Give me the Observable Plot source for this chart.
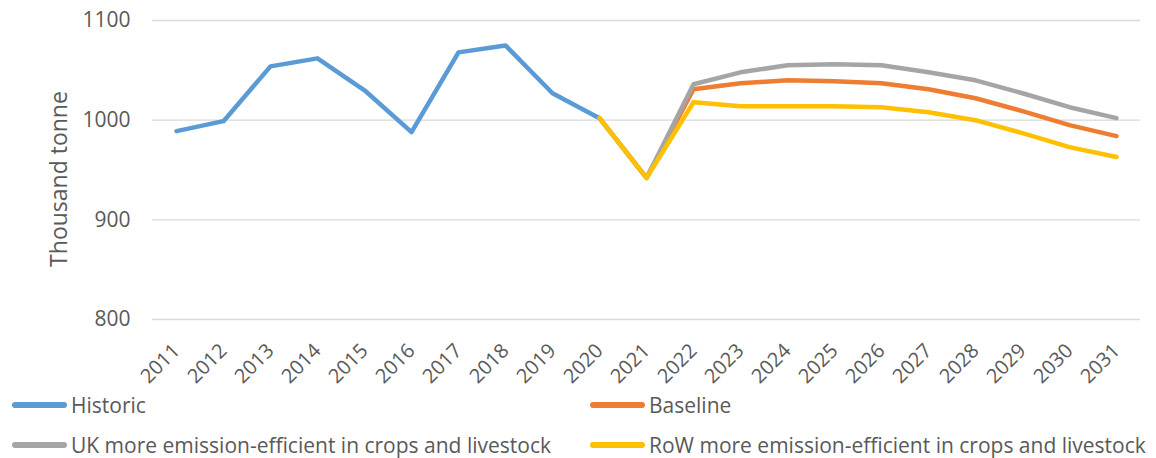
<!DOCTYPE html>
<html>
<head>
<meta charset="utf-8">
<script src="https://cdn.jsdelivr.net/npm/d3@7"></script>
<script src="https://cdn.jsdelivr.net/npm/@observablehq/plot@0.6"></script>
<style>
  html, body { margin: 0; padding: 0; background: #fff; }
  body { width: 1156px; height: 458px; overflow: hidden; font-family: "Open Sans", Lato, sans-serif; }
  #chart svg { display: block; }
  .legend { position: relative; height: 68px; color: #595959; font-size: 21px; }
  .item { position: absolute; display: flex; align-items: center; white-space: nowrap; height: 30px; }
  .swatch { width: 55px; height: 5.5px; border-radius: 3px; margin-right: 4px; }
</style>
</head>
<body>
<div id="chart"></div>
<div class="legend" id="legend"></div>
<script>
// Years on the category axis
const years = ["2011","2012","2013","2014","2015","2016","2017","2018","2019","2020","2021",
               "2022","2023","2024","2025","2026","2027","2028","2029","2030","2031"];

// Historic production, 2011–2020 (thousand tonne)
const historic = [989, 999, 1054, 1062, 1030, 988, 1068, 1075, 1027, 1002];

// Projections, 2020–2031 (thousand tonne)
const projYears = years.slice(9);
const baseline  = [1002, 942, 1031, 1037, 1040, 1039, 1037, 1031, 1022, 1009, 995, 984];
const ukEff     = [1002, 942, 1036, 1048, 1055, 1056, 1055, 1048, 1040, 1027, 1013, 1002];
const rowEff    = [1002, 942, 1018, 1014, 1014, 1014, 1013, 1008, 1000, 987, 973, 963];

const yTicks = [800, 900, 1000, 1100];

const series = [
  {name: "Historic", color: "#5b9bd5", x: years.slice(0, 10), y: historic},
  {name: "Baseline", color: "#ed7d31", x: projYears, y: baseline},
  {name: "UK more emission-efficient in crops and livestock", color: "#a5a5a5", x: projYears, y: ukEff},
  {name: "RoW more emission-efficient in crops and livestock", color: "#ffc000", x: projYears, y: rowEff}
];

const rows = series.flatMap(s => s.x.map((yr, i) => ({year: yr, value: s.y[i], series: s.name})));

const chart = Plot.plot({
  width: 1156,
  height: 390,
  marginLeft: 152,
  marginRight: 16,
  marginTop: 20,
  marginBottom: 71,
  style: {fontFamily: "'Open Sans', sans-serif", fontSize: "20px", color: "#595959", background: "#fff"},
  x: {type: "point", domain: years, padding: 0.5},
  y: {domain: [800, 1100]},
  marks: [
    Plot.gridY(yTicks, {stroke: "#d9d9d9", strokeOpacity: 1, strokeWidth: 1.3}),
    Plot.axisY(yTicks, {tickSize: 0, tickPadding: 22, label: null, fontSize: 21, tickFormat: d => String(d)}),
    Plot.text(["Thousand tonne"], {frameAnchor: "left", textAnchor: "middle", rotate: -90, dx: -93, dy: 9, fontSize: 23, fill: "#595959"}),
    Plot.axisX({tickSize: 0, tickRotate: -45, tickPadding: 28, label: null, fontSize: 20}),
    ...series.map(s => Plot.line(rows.filter(r => r.series === s.name), {
      x: "year", y: "value", stroke: s.color, strokeWidth: 4.5,
      strokeLinecap: "round", strokeLinejoin: "round"
    }))
  ]
});
document.getElementById("chart").appendChild(chart);

// Two-column legend beneath the chart
const positions = [[12, 15], [590, 15], [12, 55], [590, 55]];
const legend = document.getElementById("legend");
series.forEach((s, i) => {
  const item = document.createElement("div");
  item.className = "item";
  item.style.left = positions[i][0] + "px";
  item.style.top = (positions[i][1] - 15) + "px";
  item.innerHTML = `<span class="swatch" style="background:${s.color}"></span><span>${s.name}</span>`;
  legend.appendChild(item);
});
</script>
</body>
</html>
